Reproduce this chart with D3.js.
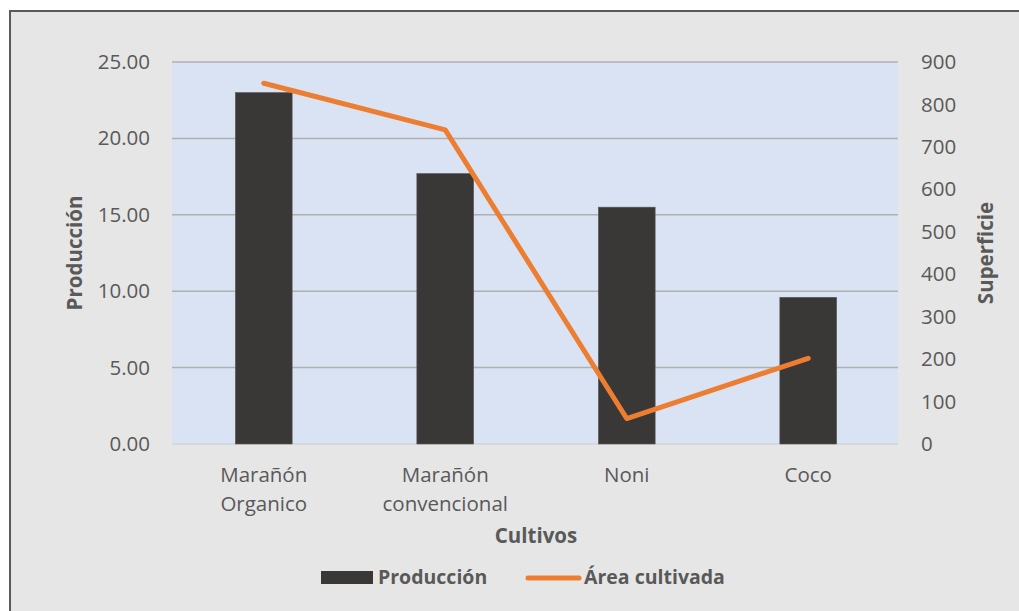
<!DOCTYPE html>
<html><head><meta charset="utf-8">
<script src="https://cdn.jsdelivr.net/npm/d3@7"></script>
<style>body{margin:0;background:#fff;}svg{display:block;font-family:"Open Sans",sans-serif;}</style>
</head><body>
<svg id="c" width="1019" height="611"></svg>
<script>
const categories = [["Marañón","Organico"],["Marañón","convencional"],["Noni"],["Coco"]];
const produccion = [23.0, 17.7, 15.5, 9.6];
const area = [850, 740, 60, 202];
const leftTicks = [0,5,10,15,20,25];
const rightTicks = [0,100,200,300,400,500,600,700,800,900];

const svg = d3.select("#c");
const L=172,R=898,T=62,B=444;
const txt="#595959";
const fs="20.5px";

svg.append("rect").attr("x",10).attr("y",11).attr("width",1030).attr("height",620)
  .attr("fill","#e6e6e6").attr("stroke","#5a5a5a").attr("stroke-width",2);
svg.append("rect").attr("x",L).attr("y",T).attr("width",R-L).attr("height",B-T).attr("fill","#dae3f3");

const x = d3.scaleBand().domain(d3.range(categories.length)).range([L,R]).padding(0);
const yL = d3.scaleLinear().domain([0,25]).range([B,T]);
const yR = d3.scaleLinear().domain([0,900]).range([B,T]);

svg.append("g").selectAll("line").data(leftTicks.filter(d=>d>0)).join("line")
  .attr("x1",L).attr("x2",R).attr("y1",d=>yL(d)).attr("y2",d=>yL(d))
  .attr("stroke","#b0b0b0").attr("stroke-width",1.5);
svg.append("line").attr("x1",L).attr("x2",R).attr("y1",B).attr("y2",B).attr("stroke","#cfd4da").attr("stroke-width",1.5);

const bw = x.bandwidth()*0.313;
svg.append("g").selectAll("rect").data(produccion).join("rect")
  .attr("x",(d,i)=>x(i)+x.bandwidth()/2-bw/2+1).attr("width",bw)
  .attr("y",d=>yL(d)).attr("height",d=>B-yL(d))
  .attr("fill","#3a3836").attr("stroke","#5a5a5a").attr("stroke-width",0.6);

const line = d3.line().x((d,i)=>x(i)+x.bandwidth()/2+1).y(d=>yR(d));
svg.append("path").datum(area).attr("d",line).attr("fill","none")
  .attr("stroke","#ed7d31").attr("stroke-width",5).attr("stroke-linecap","round").attr("stroke-linejoin","round");

const axL = d3.axisLeft(yL).tickValues(leftTicks).tickFormat(d3.format(".2f")).tickSize(0).tickPadding(0);
const gL = svg.append("g").attr("transform",`translate(150,0)`).call(axL);
gL.select(".domain").remove();
gL.selectAll("text").attr("fill",txt).style("font-size",fs).style("font-family","'Open Sans',sans-serif");

const axR = d3.axisRight(yR).tickValues(rightTicks).tickSize(0).tickPadding(0);
const gR = svg.append("g").attr("transform",`translate(921,0)`).call(axR);
gR.select(".domain").remove();
gR.selectAll("text").attr("fill",txt).style("font-size",fs).style("font-family","'Open Sans',sans-serif");

const xl = svg.append("g");
categories.forEach((c,i)=>{
  c.forEach((s,j)=>{
    xl.append("text").attr("x",x(i)+x.bandwidth()/2+1).attr("y",482+j*29)
      .attr("text-anchor","middle").attr("fill",txt).style("font-size",fs).text(s);
  });
});

svg.append("text").attr("x",536).attr("y",543).attr("text-anchor","middle").attr("fill",txt)
  .style("font-size","20.5px").style("font-weight","bold").text("Cultivos");
svg.append("text").attr("transform","translate(82,253) rotate(-90)").attr("text-anchor","middle").attr("fill",txt)
  .style("font-size","20.5px").style("font-weight","bold").text("Producción");
svg.append("text").attr("transform","translate(993,253) rotate(-90)").attr("text-anchor","middle").attr("fill",txt)
  .style("font-size","20.5px").style("font-weight","bold").text("Superficie");

svg.append("rect").attr("x",321).attr("y",571).attr("width",52).attr("height",13).attr("fill","#3a3836");
svg.append("text").attr("x",378).attr("y",584).attr("fill",txt).style("font-size","19.5px").style("font-weight","bold").text("Producción");
svg.append("line").attr("x1",528).attr("x2",579).attr("y1",578).attr("y2",578).attr("stroke","#ed7d31").attr("stroke-width",5).attr("stroke-linecap","round");
svg.append("text").attr("x",584).attr("y",584).attr("fill",txt).style("font-size","19.5px").style("font-weight","bold").text("Área cultivada");
</script>
</body></html>
